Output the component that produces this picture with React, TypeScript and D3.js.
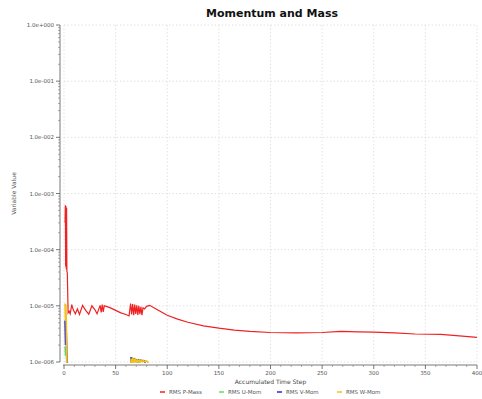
import React from "react";
import * as d3 from "d3";

const title = "Momentum and Mass";
const xLabel = "Accumulated Time Step";
const yLabel = "Variable Value";
const xTicks = [0, 50, 100, 150, 200, 250, 300, 350, 400];
const yTicks = [1, 1e-1, 1e-2, 1e-3, 1e-4, 1e-5, 1e-6];
const yTickLabels = ["1.0e+000", "1.0e-001", "1.0e-002", "1.0e-003", "1.0e-004", "1.0e-005", "1.0e-006"];
const seriesNames = ["RMS P-Mass", "RMS U-Mom", "RMS V-Mom", "RMS W-Mom"];
const seriesColors = ["#ee2222", "#66dd66", "#2a2ad0", "#f2c21a"];

const pMass: [number, number][] = [
  [1, 3e-4], [1.3, 6.2e-4], [1.6, 5e-5], [1.9, 6e-4], [2.2, 4.5e-5], [2.5, 5.5e-4], [2.8, 4.2e-5],
  [3.2, 3.8e-5], [4, 7.5e-6], [5, 8e-6], [6, 7.2e-6], [7.5, 1.05e-5], [9, 8.5e-6], [11, 7.2e-6],
  [13, 8.8e-6], [15, 7e-6], [18, 1.02e-5], [21, 8.3e-6], [24, 7.1e-6], [27, 1.0e-5], [30, 8.5e-6],
  [32, 7.2e-6], [35, 1.02e-5], [36, 7.6e-6], [37, 1.05e-5], [38, 7.8e-6], [39, 1.0e-5], [41, 9.8e-6],
  [45, 9.2e-6], [50, 8.3e-6], [55, 7.5e-6], [60, 7e-6], [63, 6.6e-6], [64.5, 1.1e-5], [65.5, 7e-6],
  [66.5, 1.08e-5], [67.5, 6.8e-6], [68.5, 1.05e-5], [69.5, 7.2e-6], [70.5, 1.02e-5], [71.5, 6.9e-6],
  [72.5, 1.0e-5], [73.5, 7.1e-6], [74.5, 9.6e-6], [75.5, 6.8e-6], [76.5, 9.2e-6], [78, 8.8e-6],
  [80, 9.8e-6], [83, 1.02e-5], [90, 8.6e-6], [100, 6.8e-6], [110, 5.8e-6], [120, 5.1e-6],
  [135, 4.4e-6], [150, 4e-6], [165, 3.7e-6], [180, 3.5e-6], [200, 3.35e-6], [225, 3.3e-6],
  [250, 3.35e-6], [268, 3.5e-6], [285, 3.45e-6], [300, 3.4e-6], [320, 3.3e-6], [340, 3.15e-6],
  [365, 3.1e-6], [380, 2.95e-6], [400, 2.75e-6],
];
const uMom: [number, number][] = [
  [1, 1.9e-6], [1.5, 1.3e-6], [2, 1.8e-6], [2.5, 1.3e-6], [3, 5e-7], [60, 3e-7], [64, 5e-7],
  [66, 1.04e-6], [70, 1.02e-6], [76, 9e-7], [80, 5e-7], [400, 2e-7],
];
const vMom: [number, number][] = [
  [1, 5.5e-6], [1.5, 2e-6], [2, 5e-6], [2.5, 2.1e-6], [3, 5e-7], [60, 3e-7], [64, 6e-7],
  [65, 1.18e-6], [67, 1.14e-6], [70, 1.1e-6], [74, 1.07e-6], [78, 1.04e-6], [80, 6e-7], [400, 2e-7],
];
const wMom: [number, number][] = [
  [1, 1.1e-5], [1.4, 5.5e-6], [1.8, 1.05e-5], [2.2, 5.5e-6], [2.6, 1.2e-6], [3, 4e-7], [60, 3e-7], [64, 6e-7],
  [65, 1.14e-6], [65.7, 1.02e-6], [66.4, 1.12e-6], [67.1, 1.01e-6], [67.8, 1.11e-6], [68.5, 1.01e-6],
  [69.2, 1.1e-6], [70, 1.01e-6], [71, 1.09e-6], [72, 1.01e-6], [73, 1.08e-6], [74, 1.01e-6],
  [75, 1.07e-6], [76, 1.01e-6], [77, 1.06e-6], [78, 1.01e-6], [79.5, 1.05e-6], [81, 1.02e-6],
  [82, 6e-7], [400, 2e-7],
];
const allSeries = [pMass, uMom, vMom, wMom];

export default function App() {
  const W = 482, H = 399;
  const x0 = 64, x1 = 477, y0 = 25, y1 = 362;
  const x = d3.scaleLinear().domain([0, 400]).range([x0, x1]);
  const y = d3.scaleLog().domain([1e-6, 1]).range([y1, y0]);
  const line = d3.line<[number, number]>().x(d => x(d[0])).y(d => y(d[1]));
  const font = "DejaVu Sans, Verdana, sans-serif";
  const minorY: number[] = [];
  for (let e = -6; e < 0; e++) for (let m = 2; m <= 9; m++) minorY.push(m * Math.pow(10, e));
  const minorX = d3.range(0, 401, 10).filter(v => v % 50 !== 0);
  const axisX = 60, axisY = 365;
  const legendX = [160, 219, 277, 337];
  return (
    <svg width={W} height={H} style={{ position: "absolute", left: 0, top: 0, background: "#fff" }}>
      <defs>
        <clipPath id="plot"><rect x={x0} y={y0} width={x1 - x0} height={y1 - y0 + 1} /></clipPath>
      </defs>
      <text x={272} y={17} textAnchor="middle" fontFamily={font} fontWeight="bold" fontSize={11} fill="#111">{title}</text>
      {xTicks.map(t => (
        <line key={"gx" + t} x1={x(t)} x2={x(t)} y1={y0} y2={y1} stroke="#dadada" strokeWidth={0.8} strokeDasharray="1.5,2" />
      ))}
      {yTicks.map(t => (
        <line key={"gy" + t} x1={x0} x2={x1} y1={y(t)} y2={y(t)} stroke="#dadada" strokeWidth={0.8} strokeDasharray="1.5,2" />
      ))}
      <line x1={axisX} x2={axisX} y1={y0} y2={y1} stroke="#555" strokeWidth={0.8} />
      {yTicks.map((t, i) => (
        <g key={"yt" + t}>
          <line x1={axisX - 4} x2={axisX} y1={y(t)} y2={y(t)} stroke="#555" strokeWidth={0.8} />
          <text x={axisX - 6} y={y(t) + 2} textAnchor="end" fontFamily={font} fontSize={5.5} fill="#555">{yTickLabels[i]}</text>
        </g>
      ))}
      {minorY.map(t => (
        <line key={"my" + t} x1={axisX - 2} x2={axisX} y1={y(t)} y2={y(t)} stroke="#777" strokeWidth={0.6} />
      ))}
      <line x1={x0 - 1} x2={x1} y1={axisY} y2={axisY} stroke="#555" strokeWidth={0.8} />
      {xTicks.map(t => (
        <g key={"xt" + t}>
          <line x1={x(t)} x2={x(t)} y1={axisY} y2={axisY + 4} stroke="#555" strokeWidth={0.8} />
          <text x={x(t)} y={axisY + 10} textAnchor="middle" fontFamily={font} fontSize={5.5} fill="#555">{t}</text>
        </g>
      ))}
      {minorX.map(t => (
        <line key={"mx" + t} x1={x(t)} x2={x(t)} y1={axisY} y2={axisY + 2} stroke="#777" strokeWidth={0.6} />
      ))}
      <text x={(x0 + x1) / 2} y={384} textAnchor="middle" fontFamily={font} fontSize={6} fill="#444">{xLabel}</text>
      <text transform={`translate(16,${(y0 + y1) / 2}) rotate(-90)`} textAnchor="middle" fontFamily={font} fontSize={6} fill="#555">{yLabel}</text>
      <g clipPath="url(#plot)">
        {[1, 2, 3, 0].map(i => (
          <path key={"s" + i} d={line(allSeries[i]) || ""} fill="none" stroke={seriesColors[i]} strokeWidth={i === 0 ? 1.2 : 1.6} />
        ))}
      </g>
      {seriesNames.map((n, i) => (
        <g key={"lg" + i}>
          <line x1={legendX[i]} x2={legendX[i] + 5} y1={392} y2={392} stroke={seriesColors[i]} strokeWidth={1.5} />
          <text x={legendX[i] + 9} y={394} fontFamily={font} fontSize={5.5} fill="#555">{n}</text>
        </g>
      ))}
    </svg>
  );
}
